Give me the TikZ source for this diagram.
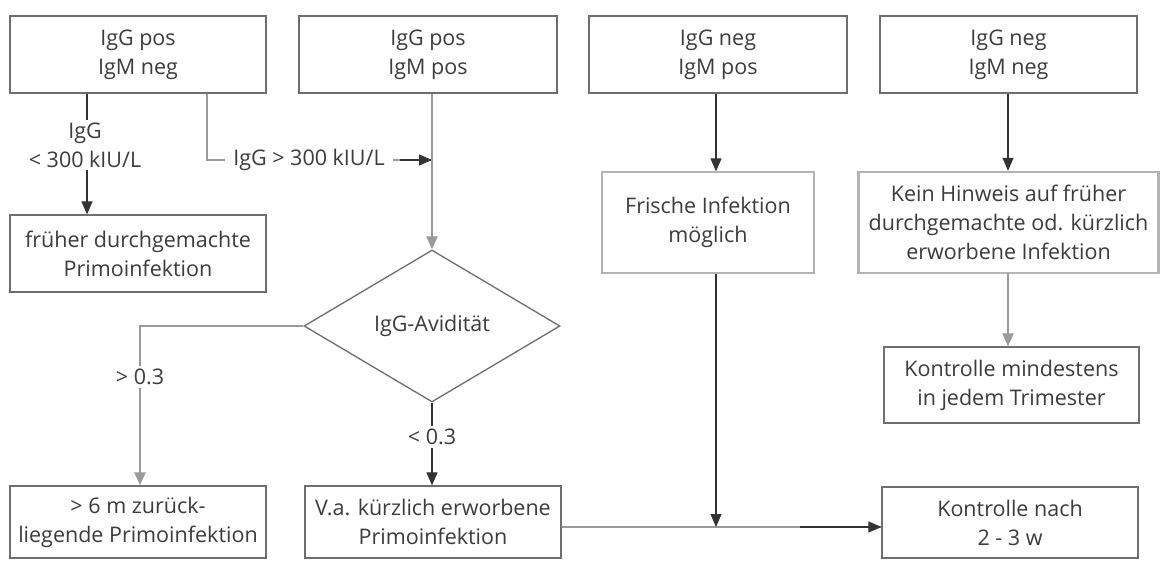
\documentclass[tikz,border=0pt]{standalone}
\usepackage{fontspec}
\setmainfont{Open Sans}
\usetikzlibrary{shapes.geometric,arrows.meta}
\definecolor{txt}{HTML}{3C3C3C}
\definecolor{bord}{HTML}{6E6E6E}
\definecolor{lbord}{HTML}{B4B4B4}
\definecolor{lline}{HTML}{9A9A9A}
\definecolor{dline}{HTML}{333333}
\begin{document}
\begin{tikzpicture}[x=1pt,y=-1pt,
  font=\fontsize{21.5}{29}\selectfont, text=txt,
  box/.style={draw=bord, line width=1.3pt, rectangle, inner sep=0pt, align=center, fill=white},
  lbox/.style={draw=lbord, line width=1.3pt, rectangle, inner sep=0pt, align=center, fill=white},
  kbox/.style={draw=lbord, line width=2.4pt, rectangle, inner sep=0pt, align=center, fill=white},
  arr/.style={draw=dline, line width=1.1pt, -{Triangle[length=13pt,width=11pt]}},
  garr/.style={draw=lline, line width=1.1pt, -{Triangle[length=13pt,width=11pt]}},
  tarr/.style={draw=lline, line width=2.2pt, -{Triangle[length=13pt,width=11pt]}},
  lab/.style={fill=white, inner sep=3pt, align=center, text=txt}]
\useasboundingbox[fill=white] (0,0) rectangle (1161,560);

% top boxes
\node[box, minimum width=256pt, minimum height=77pt] (b1) at (138,54.5) {IgG pos\\IgM neg};
\node[box, minimum width=258pt, minimum height=77pt] (b2) at (428,54.5) {IgG pos\\IgM pos};
\node[box, minimum width=258pt, minimum height=77pt] (b3) at (718,54.5) {IgG neg\\IgM pos};
\node[box, minimum width=257pt, minimum height=77pt] (b4) at (1008.5,54.5) {IgG neg\\IgM neg};

% middle
\node[box, minimum width=256pt, minimum height=77pt] (b5) at (138,253.5) {früher durchgemachte\\Primoinfektion};
\node[lbox, minimum width=212pt, minimum height=101pt] (fr) at (708,222.5) {Frische Infektion\\möglich};
\node[kbox, minimum width=300pt, minimum height=101pt] (kein) at (1008.5,222.5) {Kein Hinweis auf früher\\durchgemachte od. kürzlich\\erworbene Infektion};
\node[box, minimum width=255pt, minimum height=76pt] (km) at (1011.5,385) {Kontrolle mindestens\\in jedem Trimester};
\node[draw=bord, line width=1.3pt, diamond, aspect=1.684, minimum width=256pt, minimum height=152pt, inner sep=0pt] (dia) at (432,326) {IgG-Avidität};

% bottom
\node[box, minimum width=256pt, minimum height=72pt] (b6) at (138,522) {> 6 m zurück-\\liegende Primoinfektion};
\node[box, minimum width=256pt, minimum height=72pt] (b7) at (433,522) {V.a. kürzlich erworbene\\Primoinfektion};
\node[box, minimum width=256pt, minimum height=71pt] (kn) at (1010,522.5) {Kontrolle nach\\2 - 3 w};

% helper coordinates
\coordinate (c87) at (87,0);
\coordinate (c207) at (207,0);
\coordinate (c432) at (432,0);
\coordinate (c140) at (140,0);
\coordinate (c716) at (716,0);
\coordinate (c1008) at (1008,0);
\coordinate (h160) at (432,160);
\coordinate (j) at (716,527);

% connectors
\draw[arr] (b1.south -| c87) -- (b5.north -| c87);
\node[lab] (l1) at (85,145) {IgG\\< 300 kIU/L};

\draw[lline, line width=2pt] (b1.south -| c207) |- (h160);
\draw[arr] (400,160) -- (h160);
\draw[garr] (b2.south -| c432) -- (dia.north);
\node[lab, inner xsep=8pt] (l2) at (309,160) {IgG > 300 kIU/L};

\draw[tarr] (dia.west) -| (b6.north -| c140);
\node[lab] (l3) at (140,377) {> 0.3};
\draw[arr] (dia.south) -- (b7.north -| c432);
\node[lab] (l4) at (432,437) {< 0.3};

\draw[arr] (b3.south -| c716) -- (fr.north -| c716);
\draw[arr] (b4.south -| c1008) -- (kein.north -| c1008);
\draw[tarr] (kein.south -| c1008) -- (km.north -| c1008);

\draw[lline, line width=2pt] (b7.east |- j) -- (kn.west |- j);
\draw[arr] (fr.south -| j) -- (j);
\draw[arr] (800,527) -- (kn.west |- j);
\end{tikzpicture}
\end{document}
